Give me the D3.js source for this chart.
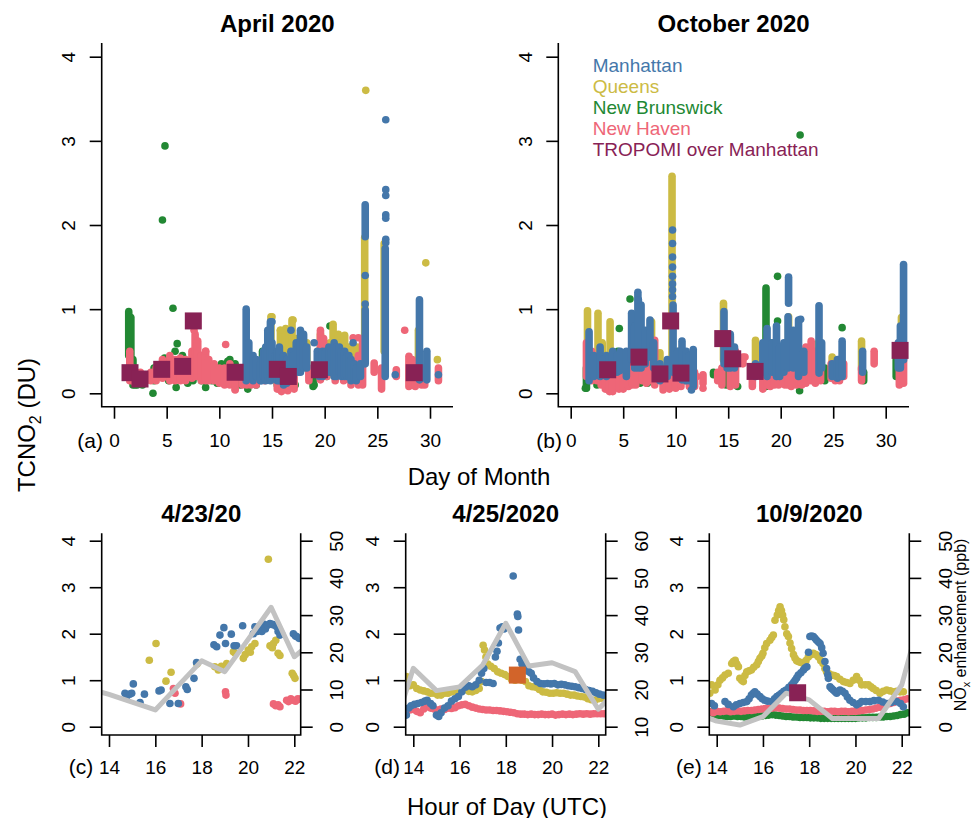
<!DOCTYPE html>
<html>
<head>
<meta charset="utf-8">
<script src="https://cdn.jsdelivr.net/npm/d3@7"></script>
<style>
  body { margin: 0; background: #fff; }
  svg { display: block; }
  text { font-family: "Liberation Sans", Arial, Helvetica, sans-serif; }
</style>
</head>
<body>
<svg id="chart" width="972" height="818"></svg>
<script>
// ---------- data: top panels, [day, low, high] columns of dense measurements and single [day, value] points ----------
const aprManhattanCols = [[12.55,0.15,1.0],[12.8,0.2,0.6],[13.2,0.15,0.45],[13.5,0.2,0.4],[13.9,0.15,0.35],[14.0,0.15,0.4],
  [14.2,0.2,0.5],[14.4,0.15,0.55],[14.6,0.2,0.75],[14.85,0.15,0.85],[15.0,0.2,0.6],[15.3,0.2,0.45],[15.5,0.15,0.5],
  [15.7,0.15,0.55],[16.1,0.1,0.45],[16.4,0.12,0.4],[16.8,0.15,0.5],[17.0,0.2,0.45],[17.3,0.3,0.6],[17.5,0.25,0.55],
  [17.7,0.25,0.75],[18.0,0.3,0.7],[18.3,0.3,0.55],[19.3,0.25,0.5],[19.5,0.2,0.45],[19.8,0.2,0.5],[20.1,0.25,0.5],
  [20.4,0.25,0.55],[20.6,0.25,0.5],[20.9,0.2,0.6],[21.1,0.2,0.55],[21.4,0.25,0.55],[21.6,0.2,0.5],[21.9,0.2,0.5],
  [22.1,0.2,0.45],[22.3,0.2,0.45],[22.5,0.15,0.4],[22.8,0.18,0.35],[23.0,0.15,0.3],[23.4,0.2,0.35],[23.85,0.35,0.99],
  [23.85,1.86,2.24],[25.75,0.2,1.72],[29.0,0.16,1.11],[29.7,0.16,0.5]];
const aprManhattanPts = [[23.85,1.4],[23.85,1.06],[25.8,3.25],[25.8,2.42],[25.8,2.35],[25.8,2.12],[25.8,2.08],[25.8,1.83],
  [25.8,1.79],[26.7,0.22],[30.8,0.22],[19.0,0.6],[16.8,0.75],[15.0,0.85],[11.9,0.2],[22.7,0.6]];
const aprQueensCols = [[14.9,0.4,0.91],[15.8,0.3,0.75],[16.3,0.35,0.77],[16.6,0.35,0.7],[16.9,0.3,0.87],[17.3,0.3,0.65],
  [17.6,0.3,0.6],[18.3,0.3,0.6],[19.6,0.3,0.7],[20.5,0.35,0.6],[20.8,0.44,0.82],[21.3,0.35,0.7],[21.6,0.35,0.6],
  [21.9,0.35,0.69],[22.2,0.35,0.55],[22.6,0.3,0.56],[23.1,0.3,0.55],[23.8,0.6,1.85],[25.65,0.5,1.78],[28.9,0.16,0.75]];
const aprQueensPts = [[23.9,3.6],[29.6,1.55],[30.7,0.4],[15.0,0.91],[15.8,0.75],[17.0,0.87]];
const aprNewBrunswickCols = [[1.4,0.45,0.97],[1.6,0.3,0.9],[1.8,0.1,0.4],[2.2,0.1,0.2],[2.7,0.1,0.2],[3.8,0.15,0.3],
  [4.8,0.2,0.42],[5.2,0.15,0.4],[5.7,0.2,0.35],[6.3,0.18,0.35],[7.5,0.15,0.3],[8.3,0.15,0.3],[9.3,0.15,0.3],[9.8,0.12,0.3],
  [10.2,0.15,0.35],[10.8,0.2,0.38],[11.5,0.12,0.35],[12.0,0.1,0.3],[13.5,0.1,0.25],[14.1,0.25,0.5],[15.5,0.1,0.2],
  [16.3,0.15,0.4],[18.9,0.08,0.2],[20.2,0.2,0.45]];
const aprNewBrunswickPts = [[4.84,2.94],[4.6,2.06],[5.6,1.01],[6.0,0.59],[5.8,0.5],[3.7,0.0],[2.0,0.1],[5.9,0.07],[6.5,0.45],
  [7.0,0.12],[8.7,0.07],[12.7,0.05],[20.5,0.8],[19.0,0.1],[9.9,0.25],[11.0,0.4],[17.2,0.1]];
const aprNewHavenCols = [[1.5,0.15,0.5],[1.8,0.15,0.3],[2.0,0.12,0.25],[2.5,0.15,0.25],[3.0,0.15,0.22],[3.5,0.15,0.25],
  [4.0,0.15,0.3],[4.6,0.18,0.4],[5.3,0.15,0.45],[5.8,0.15,0.4],[6.3,0.15,0.42],[6.8,0.15,0.4],[7.4,0.18,0.5],[7.7,0.2,0.7],
  [7.95,0.2,0.62],[8.3,0.15,0.45],[8.7,0.15,0.5],[9.0,0.15,0.4],[9.5,0.15,0.35],[10.0,0.12,0.3],[10.5,0.1,0.3],
  [11.0,0.1,0.35],[11.5,0.05,0.3],[12.2,0.1,0.3],[12.6,0.1,0.3],[13.0,0.1,0.25],[13.5,0.1,0.25],[14.3,0.15,0.3],
  [15.5,0.05,0.25],[16.0,0.05,0.2],[16.5,0.03,0.2],[17.1,0.05,0.2],[18.5,0.15,0.3],[19.6,0.16,0.75],[19.9,0.2,0.65],
  [20.2,0.2,0.4],[21.0,0.15,0.45],[21.8,0.15,0.4],[22.5,0.1,0.4],[23.2,0.1,0.45],[23.6,0.1,0.65],[24.7,0.25,0.36],
  [25.4,0.05,0.3],[26.8,0.2,0.28],[28.0,0.08,0.44],[28.3,0.1,0.4],[28.6,0.08,0.35],[29.2,0.1,0.3],[29.5,0.1,0.3],[30.8,0.15,0.3]];
const aprNewHavenPts = [[7.6,0.75],[8.7,0.5],[10.6,0.58],[11.5,0.04],[22.7,0.66],[23.2,0.66],[27.6,0.75],[15.9,0.02],[20.5,0.25]];
const aprTropomi = [[1.52,0.245],[2.47,0.17],[4.53,0.285],[6.52,0.32],[7.53,0.86],[11.5,0.25],[15.5,0.285],[16.55,0.2],[19.5,0.28],[28.5,0.245]];

const octManhattanCols = [[1.75,0.15,0.73],[2.2,0.2,0.45],[2.8,0.2,0.55],[3.4,0.2,0.45],[4.0,0.25,0.5],[4.4,0.25,0.45],
  [4.7,0.27,0.5],[5.3,0.2,0.5],[5.8,0.4,0.95],[6.1,0.3,0.8],[6.4,0.3,1.2],[6.7,0.3,1.05],[7.1,0.35,0.75],[7.55,0.43,0.87],
  [7.9,0.3,0.6],[8.5,0.15,0.35],[9.2,0.2,0.4],[9.75,0.25,1.05],[10.2,0.2,0.5],[10.6,0.16,0.62],[11.0,0.15,0.5],
  [11.3,0.15,0.45],[11.67,0.08,0.52],[14.6,0.35,0.97],[14.9,0.3,0.7],[15.2,0.3,0.7],[15.6,0.3,0.55],[17.6,0.2,0.35],
  [18.3,0.25,0.6],[18.7,0.2,0.77],[19.2,0.25,0.6],[19.6,0.2,0.8],[19.9,0.2,0.55],[20.3,0.25,0.6],[20.7,0.3,0.91],
  [20.75,1.07,1.38],[21.2,0.3,0.75],[21.7,0.2,0.87],[22.2,0.25,0.5],[23.65,0.24,1.04],[23.9,0.3,0.6],[24.9,0.2,0.35],
  [25.4,0.18,0.4],[25.6,0.2,0.4],[25.85,0.2,0.62],[27.8,0.25,0.5],[31.2,0.3,0.6],[31.4,0.3,0.8],[31.7,0.4,1.53]];
const octManhattanPts = [[9.7,1.15],[9.7,1.23],[9.7,1.3],[9.7,1.39],[9.7,1.5],[9.7,1.62],[9.7,1.78],[9.7,1.94],[11.5,0.04],
  [21.9,0.88],[6.45,1.11],[3.0,0.4]];
const octQueensCols = [[1.6,0.3,0.98],[2.6,0.44,0.95],[3.0,0.3,0.6],[3.75,0.48,0.85],[6.0,0.3,0.55],[7.7,0.4,0.85],
  [8.5,0.28,0.48],[9.65,0.3,2.58],[10.3,0.3,0.5],[14.55,0.4,1.07],[15.0,0.35,0.6],[17.6,0.28,0.63],[19.3,0.25,0.45],
  [20.75,0.28,0.91],[21.2,0.3,0.6],[23.6,0.3,0.6],[24.9,0.24,0.43],[27.7,0.28,0.62],[31.5,0.35,0.9]];
const octQueensPts = [];
const octNewBrunswickCols = [[1.5,0.06,0.3],[2.5,0.1,0.25],[4.5,0.2,0.5],[5.8,0.15,0.35],[6.6,0.12,0.3],[8.8,0.15,0.3],
  [10.8,0.15,0.3],[13.6,0.22,0.25],[14.8,0.1,0.25],[18.6,0.08,1.25],[19.0,0.2,0.6],[19.8,0.15,0.3],[22.5,0.2,0.4],
  [24.2,0.15,0.3],[27.9,0.15,0.25],[31.0,0.2,0.4]];
const octNewBrunswickPts = [[5.65,1.12],[4.63,0.77],[19.7,1.39],[19.7,0.86],[21.85,3.07],[21.8,0.03],[25.85,0.78],[15.9,0.08],
  [1.4,0.06],[7.3,0.12]];
const octNewHavenCols = [[1.5,0.2,0.6],[2.0,0.15,0.5],[2.5,0.15,0.45],[2.9,0.1,0.4],[3.3,0.05,0.4],[3.7,0.02,0.3],
  [4.0,0.02,0.35],[4.6,0.05,0.3],[5.0,0.05,0.35],[5.5,0.08,0.4],[5.9,0.1,0.45],[6.2,0.1,0.55],[6.8,0.15,0.71],[7.2,0.12,0.5],
  [7.5,0.15,0.75],[8.0,0.1,0.63],[8.8,0.04,0.25],[9.4,0.05,0.2],[10.0,0.06,0.25],[10.5,0.08,0.3],[11.3,0.08,0.3],
  [11.8,0.08,0.25],[12.6,0.12,0.22],[14.0,0.15,0.25],[14.4,0.1,0.3],[15.2,0.08,0.67],[15.7,0.1,0.5],[16.4,0.35,0.43],
  [17.3,0.08,0.2],[18.3,0.05,0.35],[18.7,0.1,0.4],[19.0,0.08,0.43],[19.4,0.1,0.4],[19.8,0.1,0.4],[20.4,0.1,0.5],
  [20.7,0.1,0.5],[21.0,0.08,0.67],[21.5,0.1,0.5],[22.0,0.1,0.45],[22.4,0.12,0.55],[22.9,0.15,0.62],[23.3,0.12,0.5],
  [23.8,0.15,0.5],[24.8,0.18,0.35],[25.2,0.15,0.35],[25.6,0.15,0.4],[26.0,0.2,0.35],[27.7,0.15,0.3],[28.9,0.35,0.5],
  [31.3,0.1,0.47],[31.7,0.12,0.5]];
const octNewHavenPts = [[12.6,0.06],[12.0,0.2],[16.6,0.43]];
const octTropomi = [[3.52,0.28],[6.5,0.43],[8.5,0.23],[9.52,0.86],[10.5,0.24],[14.48,0.65],[15.43,0.41],[17.56,0.26],[31.37,0.51]];

// ---------- data: bottom panels, [hour UTC, TCNO2] ----------
const c_manhattan = [[14.69,0.72],[14.76,0.65],[14.9,0.7],[14.98,0.72],[15.05,0.92],[15.34,0.52],[15.53,0.7],[16.16,0.77],
  [16.25,0.79],[16.63,0.5],[16.99,0.5],[17.32,0.86],[17.38,0.8],[17.67,1.04],[17.78,1.38],[18.53,1.76],[18.65,1.72],[18.79,1.97],
  [18.96,2.13],[19.03,1.79],[19.28,1.99],[19.4,1.74],[19.51,1.74],[19.77,2.17],[20.23,2.0],[20.3,2.15],[20.4,2.05],[20.45,2.1],
  [20.55,2.15],[20.6,2.05],[20.7,2.2],[20.75,2.1],[20.85,2.18],[20.95,2.22],[21.05,2.2],[21.1,2.19],[21.24,2.15],[21.3,2.05],
  [21.38,1.97],[21.45,2.0],[21.96,2.0],[22.05,1.95],[22.1,1.94],[22.2,1.9]];
const c_queens = [[15.74,1.43],[16.03,1.79],[16.46,0.98],[16.68,1.17],[17.8,1.35],[18.57,1.29],[18.72,1.22],[18.85,1.3],
  [19.08,1.36],[19.37,1.61],[19.45,1.58],[19.8,1.47],[19.88,1.55],[20.01,1.65],[20.1,1.6],[20.16,1.72],[20.3,1.79],[20.88,3.6],
  [20.95,1.74],[21.05,1.7],[21.1,1.79],[21.2,1.86],[21.3,1.58],[21.38,1.53],[21.91,1.15],[21.97,1.1],[22.03,1.04]];
const c_newHaven = [[16.78,0.82],[16.85,0.72],[17.09,0.49],[19.03,0.75],[19.05,0.68],[21.1,0.49],[21.2,0.45],[21.3,0.47],
  [21.38,0.43],[21.67,0.57],[21.75,0.54],[21.85,0.6],[21.96,0.57],[22.05,0.55],[22.15,0.6],[22.24,0.59]];

const d_manhattan = [[13.7,0.25],[13.8,0.4],[13.9,0.45],[14.05,0.48],[14.2,0.5],[14.35,0.52],[14.5,0.55],[14.6,0.57],[14.75,0.5],
  [14.85,0.45],[15.0,0.25],[15.1,0.22],[15.2,0.3],[15.35,0.4],[15.5,0.45],[15.65,0.55],[15.8,0.6],[15.95,0.65],[16.1,0.75],
  [16.25,0.85],[16.4,0.88],[16.55,0.86],[16.7,0.9],[16.85,1.0],[16.95,1.15],[17.05,1.25],[17.15,0.95],[17.3,0.95],[17.45,0.93],
  [17.55,1.5],[17.62,1.62],[17.68,1.8],[17.75,2.12],[17.85,2.15],[17.92,2.1],[18.32,3.24],[18.5,2.42],[18.52,2.37],[18.55,2.08],
  [18.62,1.45],[18.7,1.35],[18.8,1.28],[18.9,1.22],[19.0,1.18],[19.1,1.15],[19.2,1.05],[19.35,0.97],[19.5,0.93],[19.65,0.92],
  [19.8,0.93],[19.95,0.92],[20.1,0.93],[20.25,0.9],[20.4,0.91],[20.55,0.9],[20.7,0.88],[20.85,0.87],[21.0,0.86],[21.15,0.84],
  [21.3,0.82],[21.45,0.8],[21.6,0.78],[21.75,0.76],[21.9,0.73],[22.05,0.7],[22.2,0.68]];
const d_queens = [[13.7,1.08],[13.75,0.95],[13.85,0.88],[14.0,0.9],[14.15,0.82],[14.3,0.79],[14.45,0.77],[14.6,0.75],[14.75,0.72],
  [14.9,0.72],[15.05,0.68],[15.2,0.68],[15.35,0.72],[15.5,0.72],[15.65,0.75],[15.8,0.75],[15.95,0.77],[16.1,0.79],[16.25,0.8],
  [16.4,0.76],[16.55,0.75],[16.7,0.78],[16.85,0.82],[16.95,0.97],[17.02,1.75],[17.08,1.65],[17.14,1.5],[17.22,1.35],[17.35,1.3],
  [17.5,1.25],[17.65,1.18],[17.8,1.15],[17.95,1.12],[18.1,1.08],[18.25,1.02],[18.4,1.0],[18.55,1.03],[18.7,1.0],[18.85,0.97],
  [19.0,0.88],[19.15,0.86],[19.3,0.85],[19.45,0.8],[19.6,0.75],[19.75,0.74],[19.9,0.72],[20.05,0.72],[20.2,0.73],[20.35,0.72],
  [20.5,0.72],[20.65,0.7],[20.8,0.68],[20.95,0.68],[21.1,0.66],[21.25,0.65],[21.4,0.64],[21.55,0.6],[21.7,0.58],[21.85,0.57],
  [22.0,0.6],[22.15,0.62],[22.25,0.6]];
const d_newHaven = [[13.7,0.33],[13.85,0.36],[14.0,0.37],[14.15,0.33],[14.3,0.3],[14.45,0.38],[14.6,0.43],[14.75,0.4],[14.9,0.38],
  [15.05,0.36],[15.2,0.38],[15.35,0.37],[15.5,0.4],[15.65,0.39],[15.8,0.41],[15.95,0.45],[16.1,0.47],[16.25,0.48],[16.4,0.45],
  [16.55,0.42],[16.7,0.4],[16.85,0.38],[17.0,0.37],[17.15,0.36],[17.3,0.36],[17.45,0.35],[17.6,0.35],[17.75,0.34],[17.9,0.33],
  [18.05,0.32],[18.2,0.31],[18.35,0.3],[18.5,0.28],[18.65,0.27],[18.8,0.27],[18.95,0.26],[19.1,0.27],[19.25,0.26],[19.4,0.26],
  [19.55,0.27],[19.7,0.26],[19.85,0.26],[20.0,0.27],[20.15,0.25],[20.3,0.26],[20.45,0.27],[20.6,0.26],[20.75,0.27],[20.9,0.26],
  [21.05,0.27],[21.2,0.28],[21.35,0.27],[21.5,0.28],[21.65,0.27],[21.8,0.28],[21.95,0.28],[22.1,0.28],[22.25,0.28]];
const d_square = [[18.5,1.11]];

const e_manhattan = [[13.78,0.5],[13.9,0.45],[14.36,0.54],[14.5,0.48],[14.72,0.43],[14.85,0.47],[15.0,0.5],[15.15,0.52],[15.3,0.54],
  [15.4,0.6],[15.5,0.68],[15.58,0.72],[15.65,0.75],[15.75,0.7],[15.87,0.65],[15.97,0.6],[16.08,0.57],[16.2,0.55],[16.38,0.54],
  [16.5,0.6],[16.6,0.65],[16.7,0.68],[16.8,0.72],[16.9,0.76],[17.0,0.79],[17.12,0.85],[17.24,0.9],[17.32,0.95],[17.39,1.0],
  [17.46,1.05],[17.53,1.11],[17.64,1.16],[17.75,1.22],[17.82,1.26],[17.9,1.29],[17.97,1.6],[18.03,1.94],[18.1,1.95],[18.18,1.94],
  [18.25,1.9],[18.32,1.86],[18.4,1.82],[18.47,1.79],[18.54,1.7],[18.6,1.58],[18.68,1.4],[18.75,1.25],[18.8,1.12],[18.83,1.04],
  [18.9,0.86],[18.97,0.82],[19.04,0.79],[19.12,0.75],[19.19,0.72],[19.26,0.76],[19.33,0.79],[19.44,0.76],[19.55,0.72],[19.65,0.64],
  [19.76,0.57],[19.9,0.52],[20.05,0.47],[20.16,0.5],[20.27,0.54],[20.45,0.54],[20.63,0.54],[20.8,0.56],[21.0,0.57],[21.18,0.53],
  [21.35,0.5],[21.55,0.52],[21.78,0.54],[21.95,0.5],[22.07,0.43]];
const e_queens = [[13.7,0.72],[13.78,0.9],[13.93,0.79],[14.05,0.9],[14.14,1.0],[14.25,1.05],[14.36,1.11],[14.5,1.15],[14.65,1.36],
  [14.72,1.4],[14.8,1.43],[14.87,1.35],[14.94,1.29],[15.0,1.04],[15.08,1.0],[15.15,0.97],[15.22,1.1],[15.3,1.18],[15.4,1.2],
  [15.5,1.22],[15.6,1.28],[15.73,1.33],[15.8,1.4],[15.87,1.47],[15.95,1.52],[16.0,1.58],[16.08,1.7],[16.16,1.79],[16.3,1.86],
  [16.38,1.92],[16.45,1.97],[16.52,2.29],[16.62,2.4],[16.68,2.5],[16.74,2.58],[16.8,2.5],[16.85,2.4],[16.9,2.3],[16.95,2.15],
  [17.03,2.0],[17.1,1.94],[17.17,1.8],[17.24,1.68],[17.32,1.55],[17.39,1.47],[17.46,1.42],[17.53,1.4],[17.64,1.38],[17.75,1.36],
  [17.86,1.42],[17.96,1.5],[18.07,1.55],[18.18,1.58],[18.29,1.55],[18.4,1.5],[18.5,1.42],[18.6,1.36],[18.68,1.25],[18.75,1.18],
  [18.86,1.14],[18.97,1.11],[19.08,1.1],[19.19,1.08],[19.33,1.02],[19.48,0.97],[19.62,0.95],[19.76,0.93],[19.9,1.0],[20.05,1.08],
  [20.16,1.0],[20.27,0.9],[20.42,0.9],[20.56,0.9],[20.67,0.86],[20.77,0.82],[20.9,0.78],[21.06,0.72],[21.2,0.76],[21.35,0.79],
  [21.5,0.77],[21.64,0.75],[21.78,0.76],[21.93,0.75],[22.07,0.75]];
const e_newBrunswick = [[13.7,0.32],[13.85,0.28],[14.0,0.25],[14.15,0.24],[14.3,0.23],[14.45,0.22],[14.6,0.22],[14.75,0.23],
  [14.9,0.22],[15.05,0.22],[15.2,0.21],[15.35,0.22],[15.5,0.22],[15.65,0.22],[15.8,0.23],[15.95,0.23],[16.1,0.24],[16.25,0.25],
  [16.4,0.26],[16.55,0.25],[16.7,0.24],[16.85,0.23],[17.0,0.22],[17.15,0.22],[17.3,0.21],[17.45,0.21],[17.6,0.2],[17.75,0.2],
  [17.9,0.2],[18.05,0.19],[18.2,0.19],[18.35,0.19],[18.5,0.18],[18.65,0.18],[18.8,0.18],[18.95,0.18],[19.1,0.18],[19.25,0.18],
  [19.4,0.18],[19.55,0.18],[19.7,0.18],[19.85,0.18],[20.0,0.18],[20.15,0.19],[20.3,0.19],[20.45,0.19],[20.6,0.2],[20.75,0.2],
  [20.9,0.2],[21.05,0.21],[21.2,0.21],[21.35,0.22],[21.5,0.22],[21.65,0.23],[21.8,0.24],[21.95,0.26],[22.1,0.27],[22.25,0.3]];
const e_newHaven = [[13.7,0.32],[13.85,0.3],[14.0,0.33],[14.15,0.32],[14.3,0.33],[14.45,0.34],[14.6,0.32],[14.75,0.33],[14.9,0.34],
  [15.05,0.33],[15.2,0.34],[15.35,0.35],[15.5,0.35],[15.65,0.36],[15.8,0.37],[15.95,0.38],[16.1,0.39],[16.25,0.4],[16.4,0.4],
  [16.55,0.41],[16.7,0.4],[16.85,0.39],[17.0,0.38],[17.15,0.38],[17.3,0.37],[17.45,0.36],[17.6,0.36],[17.75,0.35],[17.9,0.35],
  [18.05,0.35],[18.2,0.34],[18.35,0.33],[18.5,0.33],[18.65,0.33],[18.8,0.32],[18.95,0.33],[19.1,0.33],[19.25,0.32],[19.4,0.33],
  [19.55,0.33],[19.7,0.32],[19.85,0.33],[20.0,0.33],[20.15,0.34],[20.3,0.35],[20.45,0.36],[20.6,0.37],[20.75,0.38],[20.9,0.4],
  [21.05,0.42],[21.2,0.45],[21.35,0.48],[21.5,0.5],[21.65,0.52],[21.8,0.55],[21.95,0.57],[22.1,0.58],[22.25,0.6]];
const e_square = [[17.5,0.73]];

// NOx enhancement (ppb), hourly
const noxHours = [13, 14, 15, 16, 17, 18, 19, 20, 21, 22, 23];
const c_nox = [10.5, 8.7, 6.6, 4.5, 11.1, 17.7, 14.8, 23.4, 32.1, 18.8, 24];
const d_nox = [6, 25.7, 19.7, 20.7, 26.6, 37.8, 26.3, 27.2, 24.8, 14.7, 21];
const e_nox = [3.8, 1.5, 0.45, 2.7, 9.0, 7.2, 2.2, 2.2, 2.2, 11.2, 34];

const dayTicks = [0, 5, 10, 15, 20, 25, 30];
const hourTicks = [14, 16, 18, 20, 22];
const tcTicks = [0, 1, 2, 3, 4];
const legendNames = ['Manhattan', 'Queens', 'New Brunswick', 'New Haven', 'TROPOMI over Manhattan'];

// ---------- drawing ----------
const col = { manhattan: '#4477AA', queens: '#CCBB44', newBrunswick: '#228833', newHaven: '#EE6677', tropomi: '#882255', orange: '#D2642A' };
const R = 3.8, SQ = 17, AX = 1.6, TICKFONT = 19;

const svg = d3.select('#chart');
const defs = svg.append('defs');

function styleAxis(a) {
  a.attr('font-family', null).attr('font-size', TICKFONT);
  a.select('.domain').remove();
  a.selectAll('.tick line').attr('stroke', '#000').attr('stroke-width', AX);
  a.selectAll('.tick text').attr('fill', '#000');
}

function vertLabels(a, dx) {
  a.selectAll('.tick text').attr('x', null).attr('dy', '0.35em')
    .attr('text-anchor', 'middle').attr('transform', `translate(${dx},0) rotate(-90)`);
}

function clip(id, x0, y0, x1, y1) {
  defs.append('clipPath').attr('id', id).append('rect')
    .attr('x', x0).attr('y', y0).attr('width', x1 - x0).attr('height', y1 - y0);
}

function topPanel(p) {
  const x = d3.scaleLinear().domain([0, 30]).range(p.xRange);
  const y = d3.scaleLinear().domain([0, 4]).range([393.3, 56.7]);
  const top = 43, bottom = 406.7;
  clip('clip-' + p.key, p.left, top, p.right, bottom);
  const g = svg.append('g');
  const plot = g.append('g').attr('clip-path', `url(#clip-${p.key})`);

  p.series.forEach(s => {
    plot.append('g').selectAll('line').data(s.cols).join('line')
      .attr('x1', d => x(d[0])).attr('x2', d => x(d[0]))
      .attr('y1', d => y(d[1])).attr('y2', d => y(d[2]))
      .attr('stroke', s.color).attr('stroke-width', 2 * R).attr('stroke-linecap', 'round');
    plot.append('g').selectAll('circle').data(s.pts).join('circle')
      .attr('cx', d => x(d[0])).attr('cy', d => y(d[1])).attr('r', R).attr('fill', s.color);
  });
  plot.append('g').selectAll('rect').data(p.squares).join('rect')
    .attr('x', d => x(d[0]) - SQ / 2).attr('y', d => y(d[1]) - SQ / 2)
    .attr('width', SQ).attr('height', SQ).attr('fill', col.tropomi);

  g.append('g').attr('transform', `translate(${p.left},0)`)
    .call(d3.axisLeft(y).tickValues(tcTicks).tickFormat(d3.format('d')).tickSize(12))
    .call(styleAxis).call(a => vertLabels(a, -33));
  g.append('g').attr('transform', `translate(0,${bottom})`)
    .call(d3.axisBottom(x).tickValues(dayTicks).tickSize(12))
    .call(styleAxis).call(a => a.selectAll('.tick text').attr('y', 27));

  g.append('path').attr('d', `M${p.left},${top}V${bottom}H${p.right}`)
    .attr('fill', 'none').attr('stroke', '#000').attr('stroke-width', AX);

  g.append('text').attr('x', (p.left + p.right) / 2).attr('y', 31.5).attr('text-anchor', 'middle')
    .attr('font-size', 24).attr('font-weight', 'bold').text(p.title);
  g.append('text').attr('x', p.tagX).attr('y', 447.5).attr('text-anchor', 'end')
    .attr('font-size', 21).text(p.tag);
}

function bottomPanel(p) {
  const x = d3.scaleLinear().domain([14, 22]).range(p.xRange);
  const y = d3.scaleLinear().domain([0, 4]).range([726.7, 540.7]);
  const yR = d3.scaleLinear().domain(p.noxDomain).range([726.7, 540.7]);
  const top = 533.3, bottom = 735;
  clip('clip-' + p.key, p.left, top, p.right, bottom);
  const g = svg.append('g');
  const plot = g.append('g').attr('clip-path', `url(#clip-${p.key})`);

  p.series.forEach(s => {
    plot.append('g').selectAll('circle').data(s.pts).join('circle')
      .attr('cx', d => x(d[0])).attr('cy', d => y(d[1])).attr('r', R).attr('fill', s.color);
  });
  const nox = noxHours.map((h, i) => [h, p.nox[i]]);
  plot.append('path').datum(nox)
    .attr('d', d3.line().x(d => x(d[0])).y(d => yR(d[1])))
    .attr('fill', 'none').attr('stroke', '#C2C2C2').attr('stroke-width', 5).attr('stroke-linejoin', 'round');
  plot.append('g').selectAll('rect').data(p.square).join('rect')
    .attr('x', d => x(d[0]) - SQ / 2).attr('y', d => y(d[1]) - SQ / 2)
    .attr('width', SQ).attr('height', SQ).attr('fill', p.squareColor);

  g.append('g').attr('transform', `translate(${p.left},0)`)
    .call(d3.axisLeft(y).tickValues(tcTicks).tickFormat(d3.format('d')).tickSize(12))
    .call(styleAxis).call(a => vertLabels(a, -33));
  g.append('g').attr('transform', `translate(${p.right},0)`)
    .call(d3.axisRight(yR).ticks(5).tickSize(12))
    .call(styleAxis).call(a => vertLabels(a, 36));
  g.append('g').attr('transform', `translate(0,${bottom})`)
    .call(d3.axisBottom(x).tickValues(hourTicks).tickSize(12))
    .call(styleAxis).call(a => a.selectAll('.tick text').attr('y', 25.5));

  g.append('path').attr('d', `M${p.left},${top}V${bottom}H${p.right}V${top}`)
    .attr('fill', 'none').attr('stroke', '#000').attr('stroke-width', AX);

  g.append('text').attr('x', (p.left + p.right) / 2).attr('y', 521.5).attr('text-anchor', 'middle')
    .attr('font-size', 24).attr('font-weight', 'bold').text(p.title);
  g.append('text').attr('x', p.tagX).attr('y', 774).attr('text-anchor', 'end')
    .attr('font-size', 21).text(p.tag);
}

topPanel({
  key: 'a', title: 'April 2020', tag: '(a)', tagX: 103, left: 101.7, right: 453, xRange: [114, 430],
  series: [
    { color: col.newBrunswick, cols: aprNewBrunswickCols, pts: aprNewBrunswickPts },
    { color: col.queens, cols: aprQueensCols, pts: aprQueensPts },
    { color: col.newHaven, cols: aprNewHavenCols, pts: aprNewHavenPts },
    { color: col.manhattan, cols: aprManhattanCols, pts: aprManhattanPts }
  ],
  squares: aprTropomi
});

topPanel({
  key: 'b', title: 'October 2020', tag: '(b)', tagX: 562, left: 558.3, right: 909, xRange: [570.7, 885.7],
  series: [
    { color: col.newBrunswick, cols: octNewBrunswickCols, pts: octNewBrunswickPts },
    { color: col.queens, cols: octQueensCols, pts: octQueensPts },
    { color: col.newHaven, cols: octNewHavenCols, pts: octNewHavenPts },
    { color: col.manhattan, cols: octManhattanCols, pts: octManhattanPts }
  ],
  squares: octTropomi
});

// legend inside panel (b)
const legendColors = [col.manhattan, col.queens, col.newBrunswick, col.newHaven, col.tropomi];
svg.append('g').selectAll('text').data(legendNames).join('text')
  .attr('x', 592.7).attr('y', (d, i) => 71.7 + i * 21.1)
  .attr('font-size', 19).attr('fill', (d, i) => legendColors[i]).text(d => d);

bottomPanel({
  key: 'c', title: '4/23/20', tag: '(c)', tagX: 93.3, left: 101.7, right: 300.7, xRange: [109, 294.3],
  noxDomain: [0, 50], nox: c_nox, square: [], squareColor: col.tropomi,
  series: [
    { color: col.queens, pts: c_queens },
    { color: col.newHaven, pts: c_newHaven },
    { color: col.manhattan, pts: c_manhattan }
  ]
});

bottomPanel({
  key: 'd', title: '4/25/2020', tag: '(d)', tagX: 400, left: 405.7, right: 605.7, xRange: [413.3, 598.3],
  noxDomain: [10, 60], nox: d_nox, square: d_square, squareColor: col.orange,
  series: [
    { color: col.queens, pts: d_queens },
    { color: col.newHaven, pts: d_newHaven },
    { color: col.manhattan, pts: d_manhattan }
  ]
});

bottomPanel({
  key: 'e', title: '10/9/2020', tag: '(e)', tagX: 701.7, left: 709.3, right: 909.3, xRange: [716.7, 901.7],
  noxDomain: [0, 50], nox: e_nox, square: e_square, squareColor: col.tropomi,
  series: [
    { color: col.newBrunswick, pts: e_newBrunswick },
    { color: col.queens, pts: e_queens },
    { color: col.newHaven, pts: e_newHaven },
    { color: col.manhattan, pts: e_manhattan }
  ]
});

// shared axis titles
svg.append('text').attr('x', 479).attr('y', 484.5).attr('text-anchor', 'middle').attr('font-size', 24).text('Day of Month');
svg.append('text').attr('x', 507).attr('y', 814.5).attr('text-anchor', 'middle').attr('font-size', 24).text('Hour of Day (UTC)');

const yTitle = svg.append('text').attr('text-anchor', 'middle').attr('font-size', 24)
  .attr('transform', 'translate(27,425) rotate(-90)').attr('dy', '0.35em');
yTitle.append('tspan').text('TCNO');
yTitle.append('tspan').attr('font-size', 16).attr('dy', 6).text('2');
yTitle.append('tspan').attr('dy', -6).text(' (DU)');

const rTitle = svg.append('text').attr('text-anchor', 'middle').attr('font-size', 16)
  .attr('transform', 'translate(960,625) rotate(-90)').attr('dy', '0.35em');
rTitle.append('tspan').text('NO');
rTitle.append('tspan').attr('font-size', 11).attr('dy', 4).text('x');
rTitle.append('tspan').attr('dy', -4).text(' enhancement (ppb)');
</script>
</body>
</html>
